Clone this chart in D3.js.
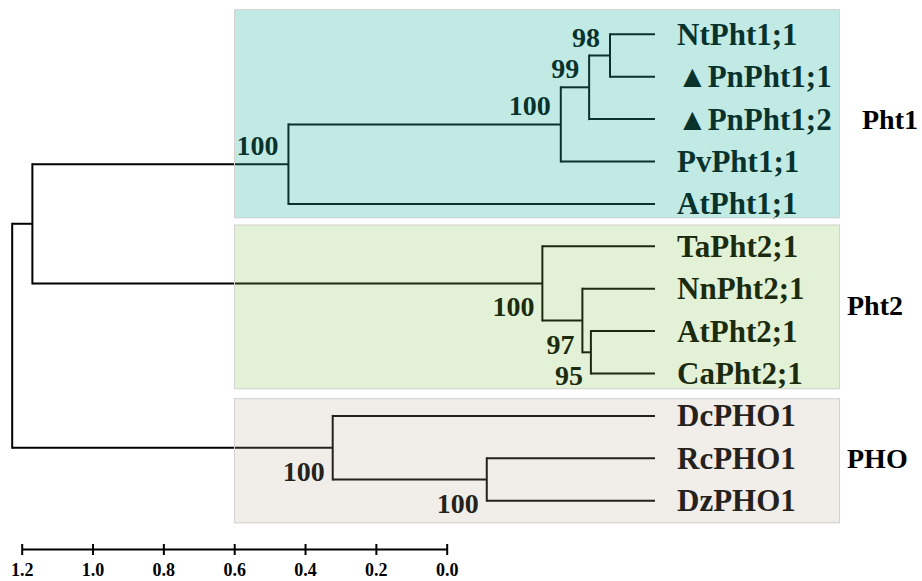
<!DOCTYPE html>
<html>
<head>
<meta charset="utf-8">
<script src="https://cdn.jsdelivr.net/npm/d3@7"></script>
<style>
  html, body { margin: 0; padding: 0; background: #fff; }
  svg { display: block; }
  text { font-family: "Liberation Serif", "Times New Roman", serif; font-weight: bold; }
</style>
</head>
<body>
<svg id="chart" width="922" height="581"></svg>
<script>
// ---------------- data ----------------
const leafNames = ["NtPht1;1", "▲PnPht1;1", "▲PnPht1;2", "PvPht1;1", "AtPht1;1",
                   "TaPht2;1", "NnPht2;1", "AtPht2;1", "CaPht2;1",
                   "DcPHO1", "RcPHO1", "DzPHO1"];
// internal nodes: [id, child1, child2, height (distance from tips), bootstrap]
const internalNodes = [
  ["n98",  "NtPht1;1", "▲PnPht1;1", 0.127, 98],
  ["n99",  "n98", "▲PnPht1;2", 0.186, 99],
  ["n100a","n99", "PvPht1;1", 0.266, 100],
  ["Pht1", "n100a", "AtPht1;1", 1.035, 100],
  ["n95",  "AtPht2;1", "CaPht2;1", 0.181, 95],
  ["n97",  "NnPht2;1", "n95", 0.205, 97],
  ["Pht2", "TaPht2;1", "n97", 0.318, 100],
  ["n100c","RcPHO1", "DzPHO1", 0.475, 100],
  ["PHO",  "DcPHO1", "n100c", 0.910, 100],
  ["A",    "Pht1", "Pht2", 1.758, null],
  ["root", "A", "PHO", 1.815, null]
];
const groupNames = ["Pht1", "Pht2", "PHO"];
const groupMembers = [
  ["NtPht1;1", "▲PnPht1;1", "▲PnPht1;2", "PvPht1;1", "AtPht1;1"],
  ["TaPht2;1", "NnPht2;1", "AtPht2;1", "CaPht2;1"],
  ["DcPHO1", "RcPHO1", "DzPHO1"]
];
const scaleTicks = [1.2, 1.0, 0.8, 0.6, 0.4, 0.2, 0.0];

// ---------------- build tree ----------------
const nodeMap = new Map();
leafNames.forEach(n => nodeMap.set(n, { name: n, height: 0, support: null }));
internalNodes.forEach(([id, a, b, h, s]) => {
  nodeMap.set(id, { name: id, height: h, support: s, children: [nodeMap.get(a), nodeMap.get(b)] });
});
const root = d3.hierarchy(nodeMap.get("root"));

const svg = d3.select("#chart");
const xTree = d3.scaleLinear().domain([0, 1.2]).range([655, 230]);
const yLeaf = d3.scalePoint().domain(leafNames).range([34.3, 500.7]);

root.eachAfter(n => {
  n.px = xTree(n.data.height);
  if (!n.children) n.py = yLeaf(n.data.name);
  else n.py = (n.children[0].py + n.children[n.children.length - 1].py) / 2;
});

// group of each leaf
const groupOf = new Map();
groupMembers.forEach((arr, i) => arr.forEach(l => groupOf.set(l, i)));
root.eachAfter(n => {
  if (!n.children) n.group = groupOf.get(n.data.name);
  else {
    const g = n.children.map(c => c.group);
    n.group = g.every(v => v === g[0]) ? g[0] : -1;
  }
});

// ---------------- tree lines ----------------
const gTree = svg.append("g").attr("stroke", "#000").attr("stroke-width", 2).attr("fill", "none");
root.descendants().filter(n => n.children).forEach(n => {
  const c0 = n.children[0], c1 = n.children[n.children.length - 1];
  gTree.append("line").attr("x1", n.px).attr("x2", n.px).attr("y1", c0.py).attr("y2", c1.py)
       .attr("stroke-linecap", "square");
  n.children.forEach(c => {
    gTree.append("line").attr("x1", n.px).attr("x2", c.px).attr("y1", c.py).attr("y2", c.py);
  });
});

// leaf labels
svg.append("g").selectAll("text").data(root.leaves()).join("text")
  .attr("x", d => d.px + 22)
  .attr("y", d => d.py)
  .attr("dy", "0.34em")
  .attr("font-size", 31)
  .attr("fill", "#000")
  .text(d => d.data.name);

// bootstrap labels
svg.append("g").selectAll("text")
  .data(root.descendants().filter(n => n.data.support != null))
  .join("text")
  .attr("text-anchor", "end")
  .attr("font-size", 28)
  .attr("fill", "#000")
  .attr("x", d => d.px - (d.group === 0 ? 10 : 8))
  .attr("y", d => d.group === 0 ? d.py - 9 : d.py + 33)
  .text(d => d.data.support);

// ---------------- group boxes (translucent overlay) ----------------
const boxFill = ["rgb(37,180,162)", "rgb(128,196,69)", "rgb(185,165,145)"];
const boxAlpha = [0.28, 0.22, 0.2];
const padTop = [25, 21.7, 17.7];
const padBot = [14.3, 15.7, 22.6];
groupMembers.forEach((arr, i) => {
  const y0 = yLeaf(arr[0]) - padTop[i];
  const y1 = yLeaf(arr[arr.length - 1]) + padBot[i];
  svg.append("rect").attr("x", 234).attr("y", y0).attr("width", 606).attr("height", y1 - y0)
    .attr("fill", boxFill[i]).attr("fill-opacity", boxAlpha[i]);
  svg.append("rect").attr("x", 234.5).attr("y", y0 + 0.5).attr("width", 605).attr("height", y1 - y0 - 1)
    .attr("fill", "none").attr("stroke", "#d2d2d2").attr("stroke-width", 1);
});

// group names
const groupLabelX = [862, 847, 847];
const groupLabelY = [yLeaf(groupMembers[0][2]),
                     (yLeaf(groupMembers[1][1]) + yLeaf(groupMembers[1][2])) / 2 - 4,
                     yLeaf(groupMembers[2][1])];
svg.append("g").selectAll("text").data(groupNames).join("text")
  .attr("x", (d, i) => groupLabelX[i])
  .attr("y", (d, i) => groupLabelY[i])
  .attr("dy", "0.34em")
  .attr("font-size", 28)
  .attr("fill", "#000")
  .text(d => d);

// ---------------- scale bar ----------------
const xAxisScale = d3.scaleLinear().domain([1.2, 0]).range([21.7, 446.7]);
const axis = d3.axisBottom(xAxisScale).tickValues(scaleTicks).tickFormat(d3.format(".1f"))
  .tickSize(0).tickPadding(14);
const gAxis = svg.append("g").attr("transform", "translate(0,549)").call(axis);
gAxis.attr("font-family", null).attr("font-size", null);
gAxis.select(".domain").attr("stroke", "#000").attr("stroke-width", 2);
gAxis.selectAll(".tick line").attr("y1", -5).attr("y2", 6).attr("stroke", "#000").attr("stroke-width", 2);
gAxis.selectAll(".tick text").attr("fill", "#000")
  .style("font-size", "18px").style("font-family", "'Liberation Serif', serif").style("font-weight", "bold");
</script>
</body>
</html>
